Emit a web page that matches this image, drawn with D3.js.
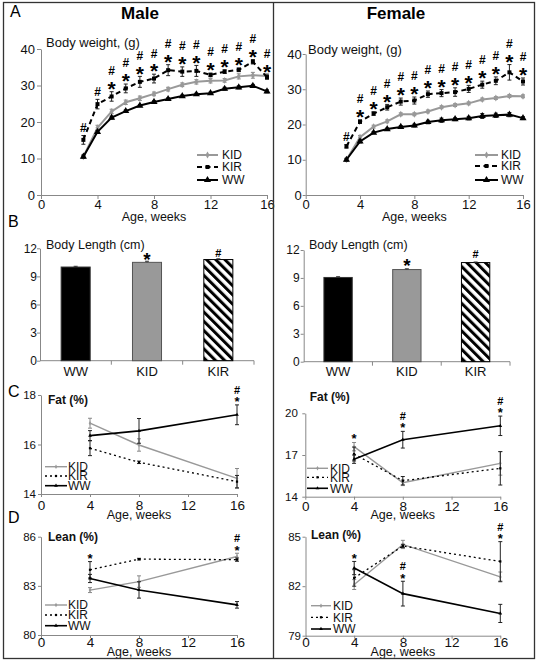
<!DOCTYPE html>
<html><head><meta charset="utf-8">
<script src="https://cdn.jsdelivr.net/npm/d3@7"></script>
<style>body{margin:0;background:#fff} svg{display:block} text{font-family:"Liberation Sans",Arial,sans-serif}</style>
</head><body>
<svg id="c" width="538" height="668"></svg>
<script>
// ---------------- DATA ----------------
const weeksWt = [3,4,5,6,7,8,9,10,11,12,13,14,15,16];
const ageTicks = [0,4,8,12,16];
const wtTicks = [0,10,20,30,40];

const maleWtKID    = [10.5,18.4,22.9,25.4,26.5,27.7,29.0,30.2,31.0,31.3,31.4,32.5,32.8,32.6];
const maleWtKIDErr = [0.5,0.7,0.6,0.6,0.6,0.5,0.5,0.5,0.6,0.6,0.5,0.7,0.8,0.6];
const maleWtKIR    = [15.1,24.9,27.0,29.2,31.0,31.9,34.2,33.8,34.0,32.9,33.8,34.3,36.5,32.3];
const maleWtKIRErr = [1.2,1.3,1.3,1.2,1.5,1.2,1.5,1.3,1.5,0.5,0.5,0.5,0.6,0.6];
const maleWtWW     = [10.5,17.3,21.2,23.0,24.5,25.5,26.3,27.1,27.6,27.9,29.1,29.5,29.9,28.4];
const maleWtWWErr  = [0.4,0.4,0.4,0.3,0.3,0.3,0.3,0.3,0.3,0.3,0.4,0.4,0.4,0.4];
const maleWtMarks  = ["#","#","#*","#*","#*","#*","#*","#*","#*","#*","#*","#*","#*","#*"];

const femWtKID    = [10.0,16.4,19.4,20.9,22.9,22.9,23.7,24.9,25.5,26.0,27.1,27.5,28.1,28.0];
const femWtKIDErr = [0.4,0.5,0.4,0.4,0.4,0.4,0.4,0.4,0.4,0.4,0.4,0.4,0.4,0.4];
const femWtKIR    = [13.8,20.8,23.1,24.9,26.5,26.8,28.6,28.9,29.2,30.1,31.3,32.4,34.8,32.2];
const femWtKIRErr = [0.5,0.5,0.5,0.8,1.0,1.0,0.9,1.0,1.2,1.0,1.0,1.1,2.2,1.0];
const femWtWW     = [10.0,15.2,17.7,18.7,19.3,19.7,20.7,21.2,21.5,21.8,22.4,22.6,22.8,21.8];
const femWtWWErr  = [0.4,0.4,0.3,0.3,0.4,0.4,0.5,0.6,0.4,0.5,0.7,0.6,0.6,0.4];
const femWtMarks  = ["#","#*","#*","#*","#*","#*","#*","#*","#*","#*","#*","#*","#*","#*"];

const groups = ["WW","KID","KIR"];
const lenTicks = [0,3,6,9,12];
const maleLen    = [10.0,10.5,10.8];
const maleLenErr = [0.08,0.12,0.08];
const femLen     = [9.05,9.9,10.65];
const femLenErr  = [0.08,0.08,0.06];
const lenMarks   = ["","*","#"];

const weeksComp = [4,8,16];
const maleFatKID = [16.86,15.98,14.63], maleFatKIDErr = [0.2,0.25,0.4];
const maleFatKIR = [15.85,15.28,14.5],  maleFatKIRErr = [0.3,0.05,0.25];
const maleFatWW  = [16.36,16.55,17.2],  maleFatWWErr  = [0.2,0.5,0.4];
const maleFatMarks = ["","","#*"], maleFatOver = ["","","WW"];

const femFatKID = [17.6,15.0,16.4],   femFatKIDErr = [0.3,0.2,0.85];
const femFatKIR = [17.07,15.15,16.04], femFatKIRErr = [0.5,0.3,1.2];
const femFatWW  = [16.7,18.1,19.1],   femFatWWErr  = [0.3,0.6,0.7];
const femFatMarks = ["*","#*","#*"], femFatOver = ["KID","WW","WW"];

const maleLeanKID = [82.74,83.26,84.79], maleLeanKIDErr = [0.15,0.35,0.2];
const maleLeanKIR = [83.98,84.63,84.6],  maleLeanKIRErr = [0.5,0.05,0.1];
const maleLeanWW  = [83.45,82.75,81.84], maleLeanWWErr  = [0.25,0.5,0.2];
const maleLeanMarks = ["*","","#*"], maleLeanOver = ["KIR","","KID"];

const femLeanKID = [82.1,84.53,82.56], femLeanKIDErr = [0.3,0.25,0.3];
const femLeanKIR = [82.5,84.44,83.5],  femLeanKIRErr = [0.5,0.1,1.2];
const femLeanWW  = [83.1,81.55,80.35], femLeanWWErr  = [0.4,0.75,0.55];
const femLeanMarks = ["*","#*","#*"], femLeanOver = ["WW","WW","KIR"];

// ---------------- DRAWING ----------------
const svg = d3.select("#c");
const FONT = '"Liberation Sans", Arial, sans-serif';
const order = ["KID","KIR","WW"];
const fmt = d3.format("d");

const ST = {
  big: {
    KID:{stroke:"#999",w:2,dash:null,sym:d3.symbolDiamond,size:14,fill:"#999",err:"#888"},
    KIR:{stroke:"#000",w:2,dash:"5,3.5",sym:d3.symbolSquare,size:16,fill:"#000",err:"#222"},
    WW:{stroke:"#000",w:2,dash:null,sym:d3.symbolTriangle,size:22,fill:"#000",err:"#222"}
  },
  small: {
    KID:{stroke:"#999",w:1.4,dash:null,sym:d3.symbolDiamond,size:6,fill:"#999",err:"#888"},
    KIR:{stroke:"#000",w:1.3,dash:"2,3",sym:d3.symbolSquare,size:5,fill:"#000",err:"#222"},
    WW:{stroke:"#000",w:1.6,dash:null,sym:d3.symbolTriangle,size:6,fill:"#000",err:"#222"}
  }
};

function sym(g, ch, cx, cy, c) {
  const size = ch === "*" ? c.starSize : c.hashSize;
  const base = ch === "*" ? cy + 0.58*size : cy + 0.36*size;
  g.append("text").attr("x", cx).attr("y", base).attr("text-anchor","middle")
    .style("font-size", size+"px").style("font-weight", c.symBold ? "bold" : "normal")
    .attr("fill","#000").text(ch);
}

function styleAxis(a, fs) {
  a.select(".domain").attr("stroke","#888").attr("stroke-width",1);
  a.selectAll(".tick line").attr("stroke","#888");
  a.selectAll(".tick text").attr("fill","#111").style("font-family",FONT).style("font-size",fs+"px");
}

function linePanel(c) {
  const x = d3.scaleLinear().domain([0,16]).range(c.xr);
  const y = d3.scaleLinear().domain(c.ydom).range(c.yr);
  const g = svg.append("g");
  const xa = g.append("g").attr("transform",`translate(0,${c.yr[0]})`)
    .call(d3.axisBottom(x).tickValues(ageTicks).tickFormat(fmt).tickSize(c.xTick).tickPadding(c.xPad).tickSizeOuter(0));
  styleAxis(xa, c.xFont);
  const ya = g.append("g").attr("transform",`translate(${c.xr[0]},0)`)
    .call(d3.axisLeft(y).tickValues(c.yticks).tickFormat(fmt).tickSize(c.yTick).tickPadding(c.yPad).tickSizeOuter(0));
  styleAxis(ya, c.yFont);
  g.append("text").attr("x", x(8)).attr("y", c.xTitleY).attr("text-anchor","middle")
    .style("font-size", c.titleFont+"px").attr("fill","#111").text("Age, weeks");
  g.append("text").attr("x", c.labX).attr("y", c.labY)
    .style("font-size", c.labFont+"px").style("font-weight", c.labBold ? "bold":"normal")
    .attr("fill","#111").text(c.label);

  const st = ST[c.kind];
  order.forEach(name => {
    const s = c.series[name], S = st[name];
    const pts = c.weeks.map((w,i) => ({w, v:s.v[i], e:s.e[i]}));
    const eg = g.append("g").attr("stroke", S.err).attr("stroke-width",1);
    pts.forEach(p => {
      const px = x(p.w), y1 = y(p.v + p.e), y2 = y(p.v - p.e);
      eg.append("line").attr("x1",px).attr("x2",px).attr("y1",y1).attr("y2",y2);
      eg.append("line").attr("x1",px-2).attr("x2",px+2).attr("y1",y1).attr("y2",y1);
      eg.append("line").attr("x1",px-2).attr("x2",px+2).attr("y1",y2).attr("y2",y2);
    });
    g.append("path").datum(pts).attr("d", d3.line().x(d=>x(d.w)).y(d=>y(d.v)))
      .attr("fill","none").attr("stroke",S.stroke).attr("stroke-width",S.w)
      .attr("stroke-dasharray",S.dash);
    g.selectAll(null).data(pts).enter().append("path")
      .attr("d", d3.symbol(S.sym, S.size)).attr("fill",S.fill)
      .attr("transform", d => `translate(${x(d.w)},${y(d.v)})`);
  });

  // annotations
  c.marks.forEach((m,i) => {
    if (!m) return;
    const anchor = c.series[c.over ? c.over[i] : "KIR"];
    const top = y(anchor.v[i] + anchor.e[i]);
    m.split("").reverse().forEach((ch,k) => {
      sym(g, ch, x(c.weeks[i]), top - c.annOff - k*c.annGap, c);
    });
  });

  // legend
  const L = c.legend;
  order.forEach((name,k) => {
    const S = st[name], yy = L.ys[k];
    g.append("line").attr("x1",L.x1).attr("x2",L.x2).attr("y1",yy).attr("y2",yy)
      .attr("stroke",S.stroke).attr("stroke-width",S.w).attr("stroke-dasharray",S.dash);
    g.append("path").attr("d", d3.symbol(S.sym, S.size)).attr("fill",S.fill)
      .attr("transform",`translate(${(L.x1+L.x2)/2},${yy})`);
    g.append("text").attr("x",L.tx).attr("y",yy+L.font*0.36).style("font-size",L.font+"px")
      .attr("fill","#111").text(name);
  });
}

// hatch pattern
const defs = svg.append("defs");
defs.append("pattern").attr("id","hatch").attr("patternUnits","userSpaceOnUse")
  .attr("width",6.5).attr("height",6.5).attr("patternTransform","rotate(-45)")
  .append("rect").attr("x",0).attr("y",0).attr("width",3).attr("height",6.5).attr("fill","#000");

function barPanel(c) {
  const x = d3.scaleBand().domain(groups).range(c.xr).paddingInner(c.pad).paddingOuter(c.pad/2);
  const y = d3.scaleLinear().domain([0,12]).range(c.yr);
  const g = svg.append("g");
  const ya = g.append("g").attr("transform",`translate(${c.xr[0]},0)`)
    .call(d3.axisLeft(y).tickValues(lenTicks).tickFormat(fmt).tickSize(3).tickPadding(c.yPad).tickSizeOuter(0));
  styleAxis(ya, 12);
  g.append("line").attr("x1",c.xr[0]).attr("x2",c.xr[1]).attr("y1",c.yr[0]).attr("y2",c.yr[0]).attr("stroke","#888");
  groups.forEach((d,i) => {
    const bx = c.xr[0] + (i+1)*x.step();
    g.append("line").attr("x1",bx).attr("x2",bx).attr("y1",c.yr[0]).attr("y2",c.yr[0]+4).attr("stroke","#888");
  });
  const fills = {WW:"#000", KID:"#999", KIR:"url(#hatch)"};
  const strokes = {WW:"#333", KID:"#555", KIR:"#000"};
  groups.forEach((d,i) => {
    const v = c.vals[i], e = c.errs[i], bx = x(d), bw = x.bandwidth();
    g.append("rect").attr("x",bx).attr("y",y(v)).attr("width",bw).attr("height",y(0)-y(v))
      .attr("fill",fills[d]).attr("stroke",strokes[d]).attr("stroke-width",1);
    const cx = bx + bw/2;
    g.append("line").attr("x1",cx).attr("x2",cx).attr("y1",y(v+e)).attr("y2",y(v)).attr("stroke","#333");
    g.append("line").attr("x1",cx-2).attr("x2",cx+2).attr("y1",y(v+e)).attr("y2",y(v+e)).attr("stroke","#333");
    g.append("text").attr("x",cx).attr("y",c.catY).attr("text-anchor","middle")
      .style("font-size","13px").attr("fill","#111").text(d);
    if (c.marks[i]) sym(g, c.marks[i], cx, y(v+e) - c.annOff, c);
  });
  g.append("text").attr("x",c.labX).attr("y",c.labY).style("font-size","12.5px").attr("fill","#111").text("Body Length (cm)");
}

// ---- panels ----
linePanel({kind:"big", xr:[41,267], yr:[195,49], ydom:[0,40], yticks:wtTicks, weeks:weeksWt,
  xTick:4, xPad:1, yTick:4, yPad:2, xFont:13, yFont:13, xTitleY:221, titleFont:12.5,
  label:"Body weight, (g)", labX:46, labY:47, labFont:13, labBold:false,
  series:{KID:{v:maleWtKID,e:maleWtKIDErr}, KIR:{v:maleWtKIR,e:maleWtKIRErr}, WW:{v:maleWtWW,e:maleWtWWErr}},
  marks:maleWtMarks, annOff:8, annGap:13, hashSize:12, starSize:21, symBold:true,
  legend:{x1:197,x2:218,tx:222,ys:[155,167,180],font:12}});

linePanel({kind:"big", xr:[305.7,523], yr:[195,54], ydom:[0,40], yticks:wtTicks, weeks:weeksWt,
  xTick:4, xPad:1, yTick:3, yPad:1, xFont:13, yFont:13, xTitleY:221, titleFont:12.5,
  label:"Body weight, (g)", labX:308, labY:54, labFont:13, labBold:false,
  series:{KID:{v:femWtKID,e:femWtKIDErr}, KIR:{v:femWtKIR,e:femWtKIRErr}, WW:{v:femWtWW,e:femWtWWErr}},
  marks:femWtMarks, annOff:8, annGap:13, hashSize:12, starSize:21, symBold:true,
  legend:{x1:475,x2:498,tx:501,ys:[155,166,180],font:12}});

barPanel({xr:[40,254], yr:[360.7,248.3], pad:0.593, vals:maleLen, errs:maleLenErr, marks:lenMarks,
  yPad:0, catY:375.5, labX:46, labY:249, annOff:6, hashSize:11, starSize:19, symBold:true});
barPanel({xr:[303.7,510], yr:[361.7,250], pad:0.588, vals:femLen, errs:femLenErr, marks:lenMarks,
  yPad:1, catY:376, labX:309, labY:249, annOff:8, hashSize:11, starSize:19, symBold:true});

linePanel({kind:"small", xr:[41,237], yr:[494,395], ydom:[14,18], yticks:[14,16,18], weeks:weeksComp,
  xTick:3, xPad:3, yTick:3, yPad:2, xFont:13.5, yFont:11.5, xTitleY:518.5, titleFont:12.5,
  label:"Fat (%)", labX:48, labY:404, labFont:12, labBold:true,
  series:{KID:{v:maleFatKID,e:maleFatKIDErr}, KIR:{v:maleFatKIR,e:maleFatKIRErr}, WW:{v:maleFatWW,e:maleFatWWErr}},
  marks:maleFatMarks, over:maleFatOver, annOff:6, annGap:8.5, hashSize:11, starSize:13, symBold:true,
  legend:{x1:45,x2:67,tx:68,ys:[466.7,476,485.7],font:12}});

linePanel({kind:"small", xr:[305.3,500.3], yr:[496.7,413.3], ydom:[14,20], yticks:[14,17,20], weeks:weeksComp,
  xTick:3, xPad:2, yTick:3, yPad:4.5, xFont:13.5, yFont:11.5, xTitleY:518.5, titleFont:12.5,
  label:"Fat (%)", labX:309.7, labY:401, labFont:12, labBold:true,
  series:{KID:{v:femFatKID,e:femFatKIDErr}, KIR:{v:femFatKIR,e:femFatKIRErr}, WW:{v:femFatWW,e:femFatWWErr}},
  marks:femFatMarks, over:femFatOver, annOff:7, annGap:8.5, hashSize:11, starSize:13, symBold:true,
  legend:{x1:307,x2:328,tx:330,ys:[468.3,477.3,488.3],font:12}});

linePanel({kind:"small", xr:[41,237], yr:[635,536.7], ydom:[80,86], yticks:[80,83,86], weeks:weeksComp,
  xTick:3, xPad:-1, yTick:3, yPad:2, xFont:13.5, yFont:11.5, xTitleY:656, titleFont:12.5,
  label:"Lean (%)", labX:48, labY:541, labFont:12, labBold:true,
  series:{KID:{v:maleLeanKID,e:maleLeanKIDErr}, KIR:{v:maleLeanKIR,e:maleLeanKIRErr}, WW:{v:maleLeanWW,e:maleLeanWWErr}},
  marks:maleLeanMarks, over:maleLeanOver, annOff:6, annGap:9, hashSize:11, starSize:13, symBold:true,
  legend:{x1:45,x2:67,tx:68,ys:[605,615,625.7],font:12}});

linePanel({kind:"small", xr:[305.5,500.3], yr:[635.7,536.7], ydom:[79,85], yticks:[79,82,85], weeks:weeksComp,
  xTick:3, xPad:-1, yTick:3, yPad:1.5, xFont:13.5, yFont:11.5, xTitleY:656, titleFont:12.5,
  label:"Lean (%)", labX:311, labY:539, labFont:12, labBold:true,
  series:{KID:{v:femLeanKID,e:femLeanKIDErr}, KIR:{v:femLeanKIR,e:femLeanKIRErr}, WW:{v:femLeanWW,e:femLeanWWErr}},
  marks:femLeanMarks, over:femLeanOver, annOff:6, annGap:9, hashSize:11, starSize:13, symBold:true,
  legend:{x1:311,x2:331,tx:333,ys:[605.7,617.3,629],font:12}});

// frame, titles, panel letters
svg.append("rect").attr("x",3.5).attr("y",2.5).attr("width",531).attr("height",656)
  .attr("fill","none").attr("stroke","#333").attr("stroke-width",1.3);
svg.append("line").attr("x1",273.5).attr("x2",273.5).attr("y1",2.5).attr("y2",658.5)
  .attr("stroke","#333").attr("stroke-width",1.3);
[["Male",140],["Female",396]].forEach(([t,x]) =>
  svg.append("text").attr("x",x).attr("y",19).attr("text-anchor","middle")
    .style("font-size","17px").style("font-weight","bold").attr("fill","#000").text(t));
[["A",10,17],["B",8,227],["C",8,397],["D",8,523]].forEach(([t,x,y]) =>
  svg.append("text").attr("x",x).attr("y",y).style("font-size","16px").attr("fill","#000").text(t));
</script>
</body></html>
